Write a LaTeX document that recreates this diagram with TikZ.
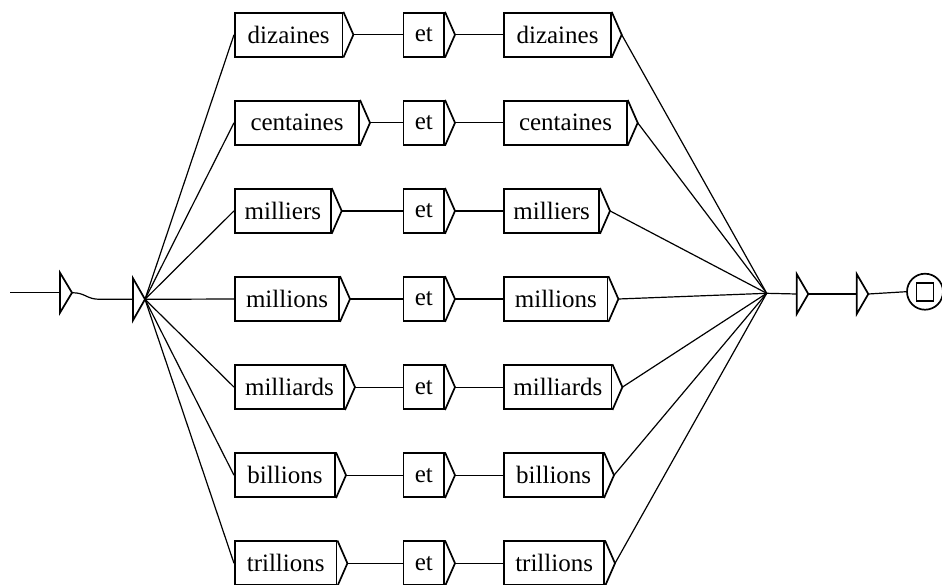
\documentclass[tikz,border=0pt]{standalone}
\usepackage{fontspec}
\setmainfont{Liberation Serif}

\begin{document}
\begin{tikzpicture}[x=1pt,y=1pt,yscale=-1,xscale=1,
  box/.style={draw, line width=1.7, rectangle, anchor=west, minimum height=44, inner sep=0, font=\fontsize{25}{27}\selectfont},
  boxline/.style={line width=1.7},
  link/.style={line width=1.2}]
\useasboundingbox (0,0) rectangle (942,584);

%Initial states
\coordinate (start) at (10,292.7);
\coordinate (in0) at (60,292.7);
\coordinate (in1) at (133,299.3);
\draw [boxline] (in0) ++(0,-20) -- ++(12,20) coordinate (tip0) -- ++(-12,20) -- cycle;
\draw [boxline] (in1) ++(0,-21) -- ++(12,21) coordinate (tip1) -- ++(-12,21) -- cycle;
\draw [link] (start) -- (in0);
\draw [link] (tip0) .. controls +(14,0) and +(-14,0) .. ++(28,6.6) -- (in1);

%Join and final state
\coordinate (join) at (766.7,293.3);
\coordinate (in2) at (796.7,294);
\coordinate (in3) at (856.7,294);
\draw [boxline] (in2) ++(0,-20) -- ++(11.6,20) coordinate (tip2) -- ++(-11.6,20) -- cycle;
\draw [boxline] (in3) ++(0,-20) -- ++(11.6,20) coordinate (tip3) -- ++(-11.6,20) -- cycle;
\node [draw, boxline, circle, minimum size=36, inner sep=0] (fin) at (925,291.7) {};
\node [draw, boxline, rectangle, minimum width=17, minimum height=18, inner sep=0] (finsq) at (fin) {};
\draw [link] (join) -- (in2);
\draw [link] (tip2) -- (in3);
\draw [link] (tip3) -- (fin.west);

%Rows
\foreach \i/\wl/\wr/\lbl in {0/107.7/106.7/dizaines, 1/124.3/122.7/centaines, 2/96/95/milliers, 3/104.3/103.4/millions, 4/109.3/107.4/milliards, 5/100.3/99/billions, 6/101.7/100/trillions}{
  \node [box, minimum width=\wl] (l\i) at (234,{34.7+88.1*\i}) {\lbl};
  \node [box, minimum width=40.6] (e\i) at (402.7,{34.7+88.1*\i}) {et};
  \node [box, minimum width=\wr] (r\i) at (503.3,{34.7+88.1*\i}) {\lbl};
  \foreach \n in {l,e,r}
    \draw [boxline] (\n\i.north east) -- ([xshift=10]\n\i.east) coordinate (\n t\i) -- (\n\i.south east);
  \draw [link] (tip1) -- (l\i.west);
  \draw [link] (lt\i) -- (e\i.west);
  \draw [link] (et\i) -- (r\i.west);
  \draw [link] (rt\i) -- (join);
}

\end{tikzpicture}
\end{document}
